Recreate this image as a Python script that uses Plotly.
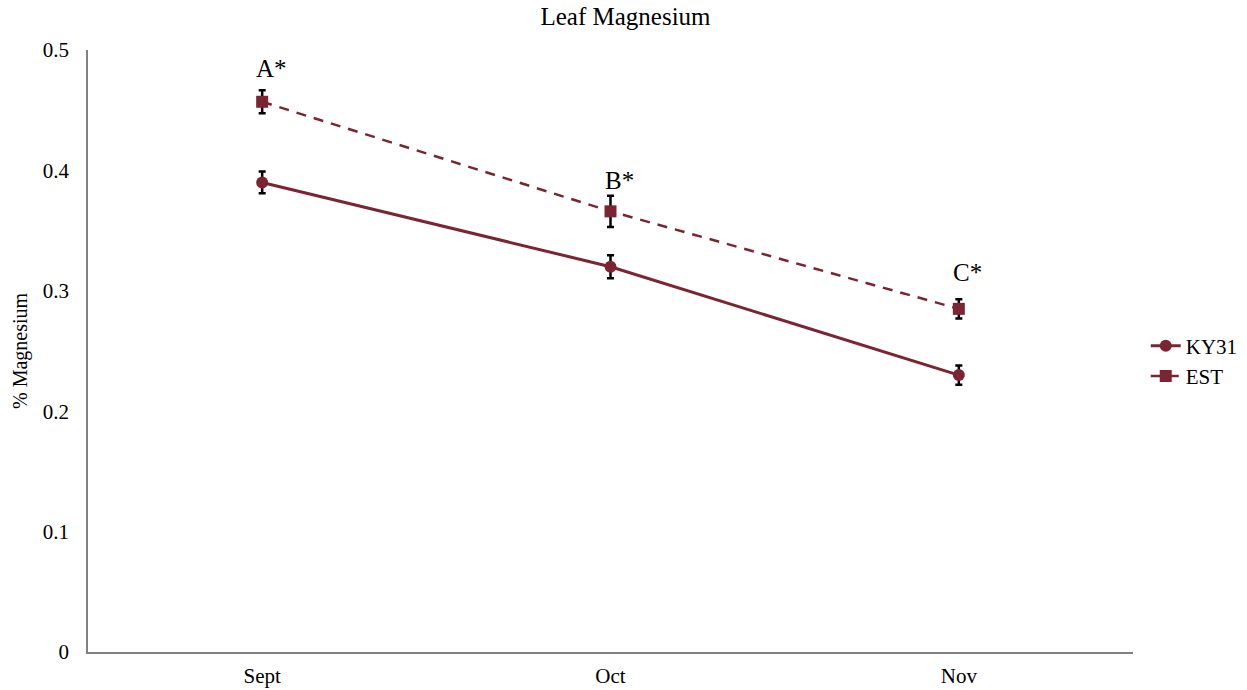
import plotly.graph_objects as go

months = ["Sept", "Oct", "Nov"]
ky31 = [0.390, 0.320, 0.230]
ky31_err = [0.009, 0.0095, 0.008]
est = [0.457, 0.366, 0.285]
est_err = [0.0095, 0.013, 0.008]
letters = ["A*", "B*", "C*"]
letter_y = [0.485, 0.392, 0.315]
y_ticks = [0, 0.1, 0.2, 0.3, 0.4, 0.5]

color = "#7B2533"
font = "Liberation Serif, Times New Roman, serif"

fig = go.Figure()
fig.add_trace(go.Scatter(
    x=months, y=ky31, name="KY31", mode="lines+markers",
    line=dict(color=color, width=3),
    marker=dict(symbol="circle", size=12, color=color),
    error_y=dict(type="data", array=ky31_err, color="black", thickness=2.5, width=3.5),
))
fig.add_trace(go.Scatter(
    x=months, y=est, name="EST", mode="lines+markers",
    line=dict(color=color, width=2.5, dash="10px,8px"),
    marker=dict(symbol="square", size=12, color=color),
    error_y=dict(type="data", array=est_err, color="black", thickness=2.5, width=3.5),
))

for m, t, yv in zip(months, letters, letter_y):
    fig.add_annotation(x=m, y=yv, text=t, showarrow=False, xshift=9,
                       font=dict(family=font, size=25, color="black"))

fig.update_layout(
    width=1247, height=690,
    paper_bgcolor="white", plot_bgcolor="white",
    margin=dict(l=88, r=114, t=50, b=38),
    title=dict(text="Leaf Magnesium", x=0.5016, xanchor="center", y=0.9768, yanchor="middle",
               font=dict(family=font, size=25, color="black")),
    font=dict(family=font, size=20, color="black"),
    legend=dict(xref="container", yref="container", x=0.9188, y=0.4768,
                xanchor="left", yanchor="middle",
                font=dict(family=font, size=21, color="black"),
                bgcolor="rgba(0,0,0,0)", itemwidth=30, tracegroupgap=2),
    showlegend=True,
)
fig.update_xaxes(type="category", range=[-0.5, 2.5], showline=True, linecolor="#808080",
                 linewidth=1.5, showgrid=False, ticks="", zeroline=False, automargin=False,
                 ticklabelstandoff=4,
                 tickfont=dict(family=font, size=21, color="black"))
fig.update_yaxes(range=[0, 0.5], tickvals=y_ticks, ticktext=["0", "0.1", "0.2", "0.3", "0.4", "0.5"],
                 showline=True, linecolor="#808080", linewidth=1.5, showgrid=False,
                 ticks="", zeroline=False, ticklabelstandoff=13, automargin=False,
                 title=dict(text="% Magnesium", font=dict(family=font, size=20, color="black"), standoff=10),
                 tickfont=dict(family=font, size=21, color="black"))

fig.write_html("out.html", config={"displayModeBar": False},
               post_script="document.body.style.margin='0';document.body.style.overflow='hidden';")
